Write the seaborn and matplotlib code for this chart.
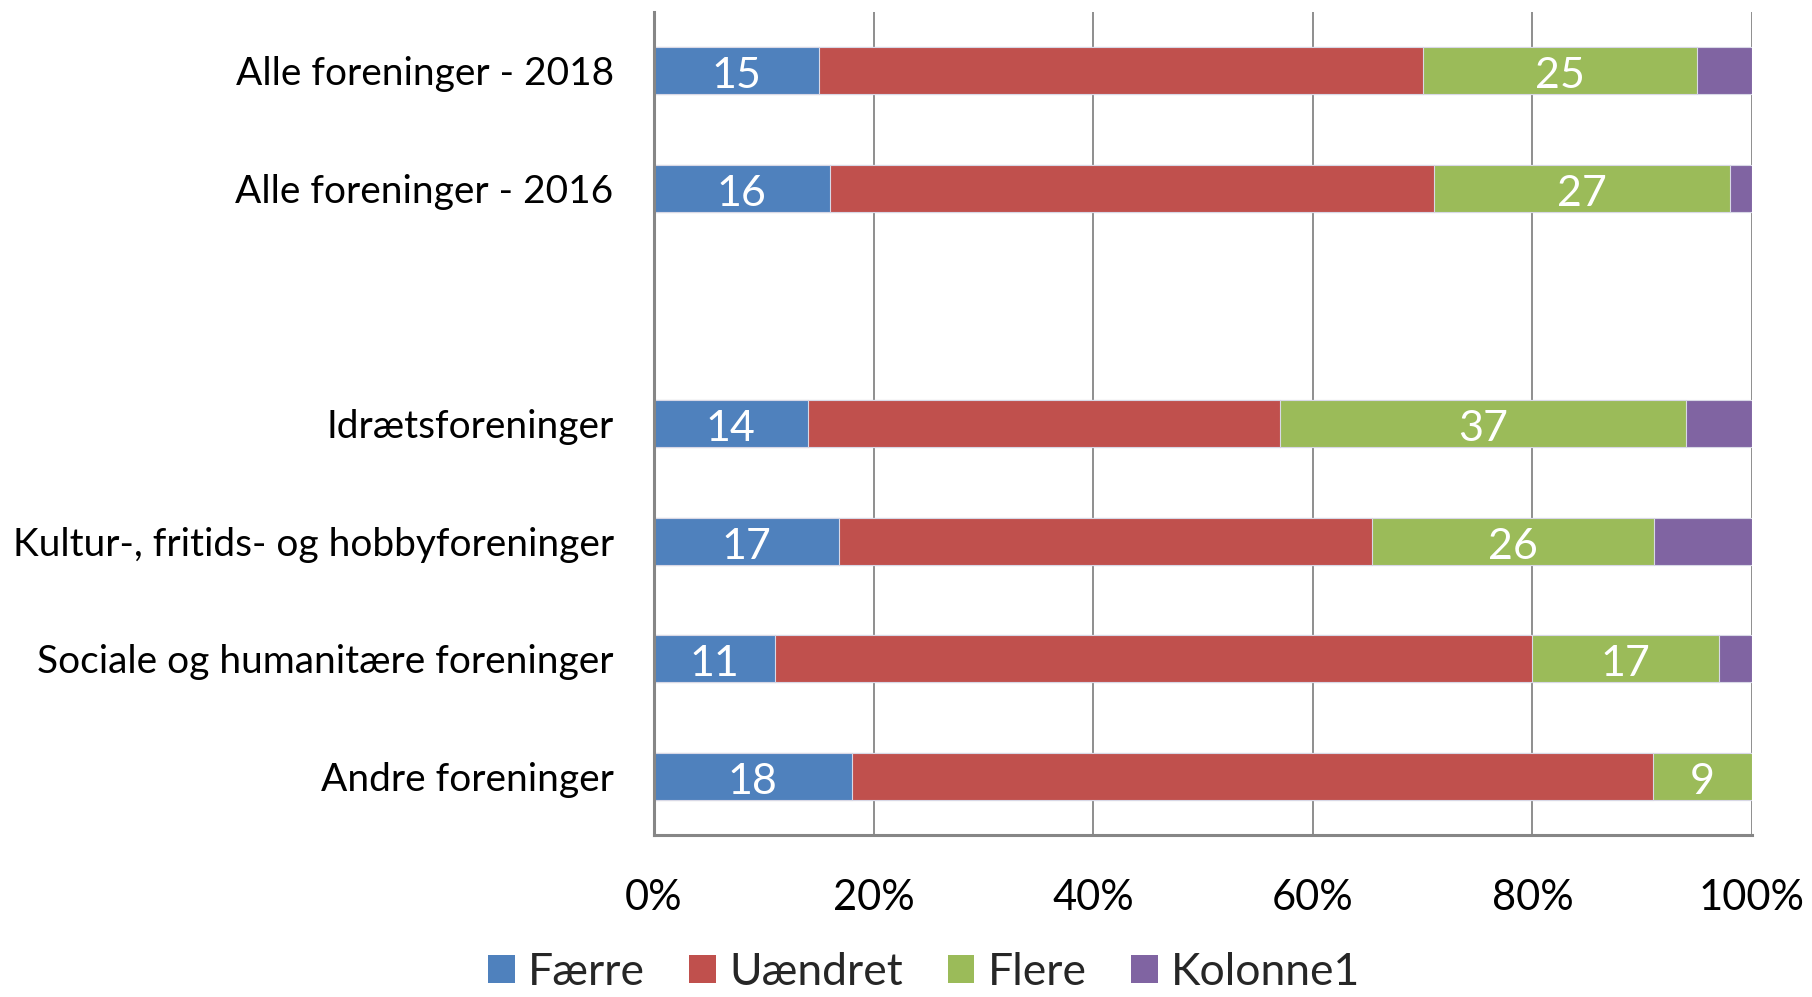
import matplotlib
matplotlib.use("Agg")
import matplotlib.pyplot as plt
from matplotlib.patches import Patch
import seaborn as sns
import numpy as np
import pandas as pd

categories = ["Alle foreninger - 2018", "Alle foreninger - 2016", " ",
              "Idrætsforeninger", "Kultur-, fritids- og hobbyforeninger",
              "Sociale og humanitære foreninger", "Andre foreninger"]
faerre   = [15, 16, np.nan, 14, 17, 11, 18]
uaendret = [55, 55, np.nan, 43, 49, 69, 73]
flere    = [25, 27, np.nan, 37, 26, 17, 9]
kolonne1 = [5, 2, np.nan, 6, 9, 3, 0]

series_names = ["Færre", "Uændret", "Flere", "Kolonne1"]
series_colors = ["#4F81BD", "#C0504D", "#9BBB59", "#8064A2"]
labelled = [True, False, True, False]
x_ticks = [0, 20, 40, 60, 80, 100]
x_ticklabels = ["0%", "20%", "40%", "60%", "80%", "100%"]

sns.set_style("white")
plt.rcParams["font.family"] = ["Lato", "DejaVu Sans"]
FS_Y = 28
FS_X = 30
FS_LAB = 31
FS_LEG = 32

vals = np.array([faerre, uaendret, flere, kolonne1], dtype=float)
totals = np.nansum(vals, axis=0)
totals[totals == 0] = np.nan
pct = vals / totals * 100
cum = np.cumsum(np.nan_to_num(pct), axis=0)
cum[:, np.isnan(totals)] = np.nan

fig = plt.figure(figsize=(18.12, 9.97), dpi=100)
ax = fig.add_axes([654/1812, 1-835/997, (1752-654)/1812, (835-12)/997])

# draw cumulative bars from the last series backwards
for i in range(len(series_names)-1, -1, -1):
    df = pd.DataFrame({"cat": categories, "val": cum[i]})
    sns.barplot(data=df, x="val", y="cat", order=categories, color=series_colors[i],
                width=0.4, errorbar=None, orient="h", ax=ax, saturation=1,
                edgecolor="#d8d8e6", linewidth=0.8, zorder=3)

# data labels
for i in range(len(series_names)):
    if not labelled[i]:
        continue
    for j, c in enumerate(categories):
        v = vals[i, j]
        if np.isnan(v):
            continue
        start = cum[i-1, j] if i > 0 else 0
        centre = (start + cum[i, j]) / 2
        ax.text(centre, j + 0.15, f"{int(v)}", ha="center", va="baseline", color="white",
                fontsize=FS_LAB, zorder=5)

ax.set_xlim(0, 100)
ax.set_ylim(len(categories)-0.5, -0.5)
ax.set_xticks(x_ticks)
ax.set_xticklabels(x_ticklabels, fontsize=FS_X)
ax.set_yticks(range(len(categories)))
ax.set_yticklabels(categories, fontsize=FS_Y)
ax.set_yticks(np.arange(-0.5, len(categories), 1), minor=True)
ax.set_xlabel("")
ax.set_ylabel("")

grid_c = "#868686"
for x in x_ticks[1:]:
    ax.axvline(x, color=grid_c, lw=1.3, zorder=1)

for s in ["top", "right"]:
    ax.spines[s].set_visible(False)
for s in ["left", "bottom"]:
    ax.spines[s].set_color(grid_c)
    ax.spines[s].set_linewidth(2.2)
    ax.spines[s].set_zorder(4)

ax.tick_params(axis="y", which="major", length=0, pad=29, labelcolor="black")
ax.tick_params(axis="y", which="minor", length=10, width=1.5, color=grid_c, direction="out")
ax.tick_params(axis="x", which="major", length=12, width=1.3, color=grid_c, direction="out",
               pad=20, labelcolor="black")

handles = [Patch(facecolor=c, edgecolor="none", label=n) for n, c in zip(series_names, series_colors)]
fig.legend(handles=handles, loc="lower center", bbox_to_anchor=(0.51, -0.036), ncol=4,
           frameon=False, fontsize=FS_LEG, handlelength=0.6, handleheight=0.6,
           handletextpad=0.3, columnspacing=1.0)

fig.savefig("out.png", dpi=100)
